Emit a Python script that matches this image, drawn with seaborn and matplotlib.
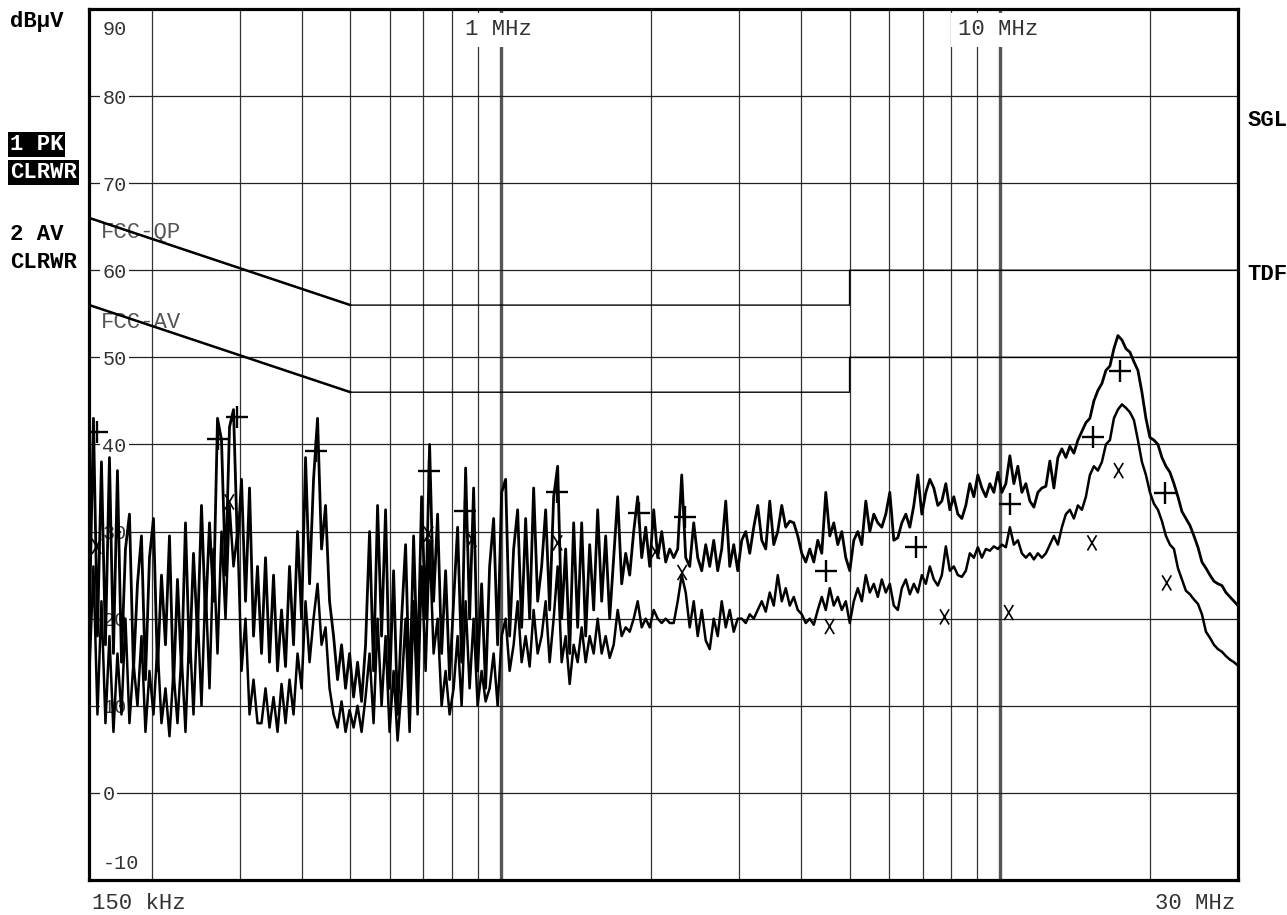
import numpy as np
import matplotlib
matplotlib.use('Agg')
import matplotlib.pyplot as plt
from matplotlib.path import Path
import seaborn as sns

# Trace 1: peak detector (dBuV), one value per sweep point 150 kHz .. 30 MHz
peak_dbuv = [
    20, 43, 18, 38, 17, 38.5, 16, 37, 15, 28, 32, 14, 24, 29.5, 13, 27, 31.5, 14, 25, 17,
    29.5, 12, 24.5, 14, 31, 15, 27.5, 18, 33, 20, 31, 22, 43, 40.5, 25, 42, 44, 28, 36, 22,
    35, 18, 26,
    16, 27, 15, 25, 14, 21, 14.5, 26, 17, 30, 20, 38.5, 24, 36, 43, 28, 33, 22, 18, 13,
    17, 12, 16, 11, 15, 10.5, 17, 30, 14, 33, 18, 32.5, 12, 25.5, 9, 20, 28.5, 11, 29.5, 14,
    34, 20,
    40, 22, 32, 16, 25.5, 13, 22, 30.5, 15, 37.3, 20, 35, 14, 24, 12, 26, 31.5, 17, 34.5, 36,
    18, 28, 32.5, 19, 31.5, 20, 35, 22, 26, 32.5, 21, 34, 37.5, 20, 28, 16, 31, 19, 31, 18,
    28.5, 21, 32.5, 22, 29.5, 20, 27, 34, 24, 27.5, 25, 30, 34, 27, 30.5, 26, 32.5, 27, 30, 26.5,
    28,
    27, 28, 36.5, 27, 26, 31, 27, 25.5, 28.5, 26, 29, 25.5, 28, 33.5, 26, 28.5, 25.5, 29, 30, 27.5,
    30.5, 33, 29, 28, 33.5, 28.5, 30, 33, 30.5, 31.2, 31, 29.5, 27.5, 26.5, 28, 26.5, 29, 27.5, 34.5, 29.5,
    31, 28.5, 30, 27, 25.5, 29, 30, 28.5, 33.5, 30, 32, 31, 30.5, 32, 34.5, 29, 29.3, 31, 32, 30.5,
    33, 36.5, 32, 34.5, 36, 35, 33, 33.5, 35.5, 32.5, 34, 32,
    31.5, 33, 35.5, 34, 36.5, 35, 34, 35.5, 34.5, 36.8, 34.5, 35.5, 38.7, 35.5, 37.5, 34.5, 35.5, 33.5, 32.8, 34.5,
    35, 35.2, 38.1, 35, 38.5, 39.5, 38.5, 39.8, 39, 40.5, 41.5, 42.5, 43, 45, 46.2, 47, 48.5, 49, 51, 52.5,
    52, 51, 50.6, 49.5, 48.5, 46, 43, 40.8, 40.5, 40, 38.5, 37.5, 36.8, 35.5, 34, 32.3, 31.5, 30.7, 29.5, 28.2,
    26.5, 25.8, 25, 24.3, 24, 23.8, 23, 22.5, 22, 21.5,
]

# Trace 2: average detector (dBuV), same sweep points
avg_dbuv = [
    14, 26, 9, 22, 8, 18, 7, 16, 9, 20, 8, 15, 10, 18, 7, 14, 9, 17, 8, 12,
    6.5, 14, 8, 16, 7, 19, 9, 21, 10, 24, 12, 28, 16, 30, 20, 33, 26, 30, 14, 20,
    9, 13, 8,
    8, 12, 7.5, 11, 7, 12.5, 8, 13, 9, 16, 12, 22, 15, 20, 24, 17, 19, 12, 9, 7.5,
    10.5, 7, 9.5, 7.5, 10, 7, 11, 16, 8, 20, 10, 18, 7, 14, 6, 12, 20, 7, 22, 9,
    26, 14,
    29, 16, 20, 10, 14, 9, 12, 18, 10, 22, 12, 20, 10, 14, 10.5, 12, 16, 10, 18, 20,
    14, 17, 22, 15, 18, 14.5, 21, 16, 18, 22, 15, 20, 26, 15, 18, 12.5, 17, 15, 19, 15,
    18, 16, 20, 16, 18, 15.5, 17, 21, 18, 19, 18.5, 20, 22, 19, 20, 19, 21, 20, 19.5, 20,
    19.5,
    19.5, 22, 25, 23, 19, 22, 18, 21, 17.5, 16.5, 20, 18, 22, 19, 21, 18.5, 20, 20, 19.5, 20.5,
    20, 21, 22, 20.8, 23, 21.5, 25, 22, 23.5, 21.5, 22.5, 21, 20.5, 19.5, 20, 19.3, 21, 22.5, 21, 23.5,
    21.5, 22.5, 21, 22, 19.5, 22, 23.5, 22, 25, 23, 24, 22.5, 24.5, 23, 24, 21.5, 21, 23.5, 24.5, 22.8,
    24, 23, 25, 24, 26, 24.5, 23.8, 25, 28.3, 25.5, 26, 25,
    24.8, 25.5, 27.5, 27, 28.2, 27, 28, 27.8, 28.3, 28, 28.5, 28.2, 30.5, 28.5, 29, 27.5, 27, 27.5, 26.8, 27.5,
    27, 27.5, 28.5, 29.5, 28.5, 30.5, 32, 32.5, 31.5, 33, 32.5, 34, 36.5, 37.5, 37, 38, 40, 40.5, 43, 44,
    44.6, 44.2, 43.7, 42.8, 40.5, 38, 36.5, 34.5, 33.2, 32.5, 31.2, 29.5, 28.5, 28, 25.8, 24.5, 23.2, 22.8, 22.2, 21.7,
    20.5, 18.5, 17.8, 17, 16.5, 16.2, 15.7, 15.3, 15, 14.6,
]

# final measurements: quasi-peak (+) and average (x)
qp_mhz = [0.155, 0.271, 0.296, 0.426, 0.717, 0.850, 1.294, 1.89, 2.335, 4.48, 6.78, 10.47, 15.35, 17.4, 21.4]
qp_dbuv = [41.4, 40.6, 43.2, 39.2, 36.9, 32.4, 34.5, 32.1, 31.7, 25.5, 28.2, 33.2, 40.9, 48.4, 34.4]
av_mhz = [0.155, 0.286, 0.717, 0.875, 1.30, 2.04, 2.31, 4.56, 7.75, 10.42, 15.3, 17.3, 21.6]
av_dbuv = [28.3, 33.4, 29.7, 29.1, 28.7, 27.7, 25.3, 19.1, 20.2, 20.7, 28.7, 37.0, 24.1]

# FCC class B conducted limits
limit_mhz = [0.15, 0.5, 5, 5, 30]
fcc_qp = [66, 56, 56, 60, 60]
fcc_av = [56, 46, 46, 50, 50]

level_ticks = [0, 10, 20, 30, 40, 50, 60, 70, 80]
grid_minor_mhz = [0.2, 0.3, 0.4, 0.5, 0.6, 0.7, 0.8, 0.9, 2, 3, 4, 5, 6, 7, 8, 9, 20]
grid_decade_mhz = [1, 10]

sweep_mhz = np.geomspace(0.15, 30, len(peak_dbuv))

sns.set_style('white')
plt.rcParams['font.family'] = ['Liberation Mono', 'DejaVu Sans Mono']

fig = plt.figure(figsize=(12.87, 9.15), dpi=100)
ax = fig.add_axes([0.0695, 0.0383, 0.8924, 0.9519])
ax.set_xscale('log')
ax.set_xlim(0.15, 30)
ax.set_ylim(-10, 90)

# grid
ax.set_xticks(grid_decade_mhz)
ax.set_xticks(grid_minor_mhz, minor=True)
ax.set_yticks(level_ticks)
ax.set_axisbelow(True)
ax.grid(which='major', axis='x', color='#555555', lw=2.4)
ax.grid(which='minor', axis='x', color='#333333', lw=0.9)
ax.grid(which='major', axis='y', color='#222222', lw=0.9)
ax.tick_params(which='both', length=0, labelbottom=False, labelleft=False)
for s in ax.spines.values():
    s.set_linewidth(2.3)
    s.set_color('black')

# level labels inside the frame
box = dict(facecolor='white', edgecolor='none', boxstyle='square,pad=0.12')
ytr = ax.get_yaxis_transform()
for v in level_ticks:
    ax.text(0.0113, v, str(v), transform=ytr, ha='left', va='center_baseline',
            fontsize=14.5, color='#333333', bbox=box, zorder=1.5)
ax.text(0.0113, 0.979, '90', transform=ax.transAxes, ha='left', va='center_baseline',
        fontsize=14.5, color='#333333', zorder=1.5)
ax.text(0.0113, 0.0207, '-10', transform=ax.transAxes, ha='left', va='center_baseline',
        fontsize=14.5, color='#333333', zorder=1.5)

topbox = dict(facecolor='white', edgecolor='none', boxstyle='square,pad=0.3')
ax.text(0.327, 0.979, '1 MHz', transform=ax.transAxes, ha='left', va='center_baseline',
        fontsize=16, color='#333333', bbox=topbox, zorder=1.5)
ax.text(0.756, 0.979, '10 MHz', transform=ax.transAxes, ha='left', va='center_baseline',
        fontsize=16, color='#333333', bbox=topbox, zorder=1.5)

ax.text(0.0096, 0.746, 'FCC-QP', transform=ax.transAxes, ha='left', va='center_baseline',
        fontsize=16, color='#555555', zorder=1.5)
ax.text(0.0096, 0.643, 'FCC-AV', transform=ax.transAxes, ha='left', va='center_baseline',
        fontsize=16, color='#555555', zorder=1.5)

# limit lines
for lim in (fcc_qp, fcc_av):
    sns.lineplot(x=limit_mhz, y=lim, ax=ax, color='black', lw=1.0, estimator=None, sort=False, zorder=2)
    sns.lineplot(x=limit_mhz[:2], y=lim[:2], ax=ax, color='black', lw=1.8, estimator=None, sort=False, zorder=2)

# traces
sns.lineplot(x=sweep_mhz, y=avg_dbuv, ax=ax, color='black', lw=1.8, estimator=None, sort=False, zorder=3)
sns.lineplot(x=sweep_mhz, y=peak_dbuv, ax=ax, color='black', lw=2.0, estimator=None, sort=False, zorder=3)

# measurement markers
sns.scatterplot(x=qp_mhz, y=qp_dbuv, ax=ax, marker='+', s=240, color='black', linewidth=1.7, zorder=4)
x_mark = Path([(-0.6, -1), (0.6, 1), (-0.6, 1), (0.6, -1)],
              [Path.MOVETO, Path.LINETO, Path.MOVETO, Path.LINETO])
sns.scatterplot(x=av_mhz, y=av_dbuv, ax=ax, marker=x_mark, s=120, facecolor='none',
                edgecolor='black', linewidth=1.2, zorder=4)

# frequency span labels
fig.text(0.0715, 0.0125, '150 kHz', ha='left', va='center', fontsize=16, color='#333333')
fig.text(0.9596, 0.0125, '30 MHz', ha='right', va='center', fontsize=16, color='#333333')

# instrument annotations
bold = dict(fontsize=16, fontweight='bold', ha='left', va='center_baseline')
inv = dict(facecolor='black', edgecolor='none', boxstyle='square,pad=0.08')
fig.text(0.0078, 0.979, 'dBµV', color='black', **bold)
fig.text(0.0078, 0.845, '1 PK', color='white', bbox=inv, **bold)
fig.text(0.0078, 0.814, 'CLRWR', color='white', bbox=inv, **bold)
fig.text(0.0078, 0.746, '2 AV', color='black', **bold)
fig.text(0.0078, 0.716, 'CLRWR', color='black', **bold)
fig.text(0.969, 0.871, 'SGL', color='black', **bold)
fig.text(0.969, 0.703, 'TDF', color='black', **bold)

fig.savefig('out.png', dpi=100)
